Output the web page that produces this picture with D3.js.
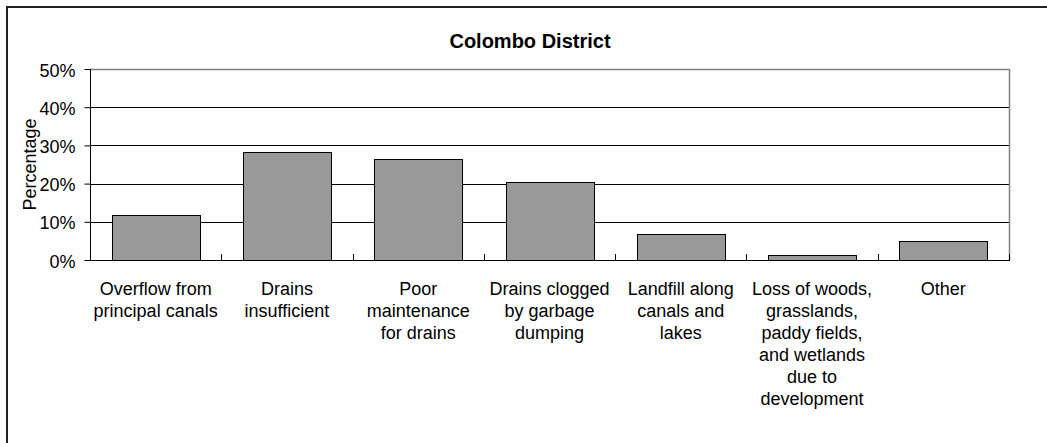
<!DOCTYPE html>
<html>
<head>
<meta charset="utf-8">
<script src="https://cdn.jsdelivr.net/npm/d3@7"></script>
<style>
  html, body { margin: 0; padding: 0; background: #fff; }
  svg { display: block; font-family: "Liberation Sans", Arial, sans-serif; }
</style>
</head>
<body>
<svg id="chart" width="1047" height="443"></svg>
<script>
const title = "Colombo District";
const yAxisTitle = "Percentage";
const categories = [
  "Overflow from\nprincipal canals",
  "Drains\ninsufficient",
  "Poor\nmaintenance\nfor drains",
  "Drains clogged\nby garbage\ndumping",
  "Landfill along\ncanals and\nlakes",
  "Loss of woods,\ngrasslands,\npaddy fields,\nand wetlands\ndue to\ndevelopment",
  "Other"
];
const values = [11.9, 28.3, 26.4, 20.4, 6.7, 1.4, 4.9];
const yTicks = [0, 10, 20, 30, 40, 50];

const svg = d3.select("#chart");
const W = 1047, H = 443;
const m = { left: 90, right: 1009, top: 69, bottom: 260 };

// outer frame (cropped at right/bottom)
svg.append("rect")
  .attr("x", 7).attr("y", 7).attr("width", 1200).attr("height", 1000)
  .attr("fill", "none").attr("stroke", "#222").attr("stroke-width", 2);

const x = d3.scaleBand().domain(categories).range([m.left, m.right]).paddingInner(0.33).paddingOuter(0.165);
const y = d3.scaleLinear().domain([0, 50]).range([m.bottom, m.top]);

// gridlines
svg.append("g").selectAll("line").data(yTicks.filter(d => d > 0 && d < 50)).join("line")
  .attr("x1", m.left).attr("x2", m.right)
  .attr("y1", d => Math.round(y(d)) + 0.5).attr("y2", d => Math.round(y(d)) + 0.5)
  .attr("stroke", "#000").attr("stroke-width", 1);

// plot border top/right gray
svg.append("path")
  .attr("d", `M${m.left},${m.top + 0.5}H${m.right + 0.5}V${m.bottom}`)
  .attr("fill", "none").attr("stroke", "#808080").attr("stroke-width", 1.5);

// bars
svg.append("g").selectAll("rect").data(values).join("rect")
  .attr("x", (d, i) => Math.round(x(categories[i])) + 0.5)
  .attr("width", Math.round(x.bandwidth()))
  .attr("y", d => Math.round(y(d)) + 0.5)
  .attr("height", d => m.bottom - Math.round(y(d)))
  .attr("fill", "#999999").attr("stroke", "#000").attr("stroke-width", 1);

// y axis
const yAxis = d3.axisLeft(y).tickValues(yTicks).tickFormat(d => d + "%").tickSize(6).tickPadding(9);
const gy = svg.append("g").attr("transform", `translate(${m.left + 0.5},0)`).call(yAxis);
gy.select(".domain").attr("stroke", "#000").attr("d", `M0,${m.top}V${m.bottom + 0.5}`);
gy.selectAll(".tick line").attr("stroke", "#000");
gy.selectAll(".tick text").attr("font-size", 18).attr("font-family", "Liberation Sans, Arial, sans-serif")
  .attr("fill", "#000").attr("dy", "0.39em");

// x axis line and inner ticks at band boundaries
svg.append("line").attr("x1", m.left).attr("x2", m.right + 1)
  .attr("y1", m.bottom + 0.5).attr("y2", m.bottom + 0.5).attr("stroke", "#000");
const step = x.step();
const bounds = d3.range(1, categories.length + 1).map(i => m.left + i * (m.right - m.left) / categories.length);
svg.append("g").selectAll("line").data(bounds).join("line")
  .attr("x1", d => Math.round(d) + 0.5).attr("x2", d => Math.round(d) + 0.5)
  .attr("y1", m.bottom - 6).attr("y2", m.bottom)
  .attr("stroke", "#000");

// category labels
const lab = svg.append("g").selectAll("text").data(categories).join("text")
  .attr("x", d => x(d) + x.bandwidth() / 2)
  .attr("y", 295)
  .attr("text-anchor", "middle").attr("font-size", 18).attr("fill", "#000");
lab.each(function(d) {
  const t = d3.select(this);
  d.split("\n").forEach((line, i) => {
    t.append("tspan").attr("x", x(d) + x.bandwidth() / 2).attr("dy", i === 0 ? 0 : 22).text(line);
  });
});

// title
svg.append("text").attr("x", 530).attr("y", 48).attr("text-anchor", "middle")
  .attr("font-size", 20).attr("font-weight", "bold").attr("fill", "#000").text(title);

// y axis title
svg.append("text").attr("transform", `translate(36,${(m.top + m.bottom) / 2}) rotate(-90)`)
  .attr("text-anchor", "middle").attr("font-size", 18).attr("fill", "#000").text(yAxisTitle);
</script>
</body>
</html>
